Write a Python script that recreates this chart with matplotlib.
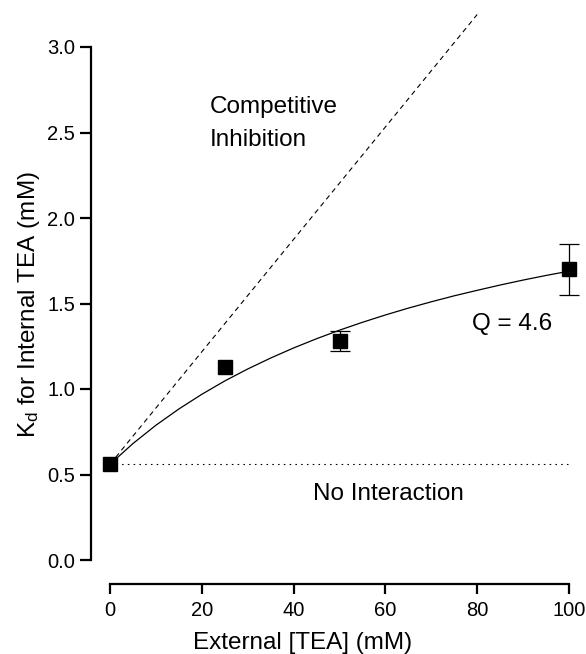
import matplotlib
matplotlib.use("Agg")
import matplotlib.pyplot as plt

plt.rcParams['font.family'] = ['Liberation Sans', 'DejaVu Sans']
plt.rcParams['mathtext.fontset'] = 'custom'
plt.rcParams['mathtext.rm'] = 'Liberation Sans'
plt.rcParams['mathtext.it'] = 'Liberation Sans:italic'

# Measured data
ext_tea = [0, 25, 50, 100]
kd_internal = [0.56, 1.13, 1.28, 1.70]
kd_err = [0.0, 0.0, 0.06, 0.15]

# Fitted curve (Q = 4.6)
fit_x = [0, 5, 10, 15, 20, 25, 30, 35, 40, 45, 50, 55, 60, 65, 70, 75, 80, 85, 90, 95, 100]
fit_y = [0.56, 0.681, 0.788, 0.883, 0.969, 1.047, 1.117, 1.181, 1.240, 1.294, 1.344,
         1.390, 1.433, 1.473, 1.510, 1.545, 1.577, 1.608, 1.637, 1.664, 1.689]

# Competitive inhibition line
comp_x = [0, 80]
comp_y = [0.56, 3.19]

# No interaction line
noint_x = [0, 100]
noint_y = [0.56, 0.56]

x_ticks = [0, 20, 40, 60, 80, 100]
y_ticks = [0.0, 0.5, 1.0, 1.5, 2.0, 2.5, 3.0]

W, H = 586, 654
fig = plt.figure(figsize=(W / 100, H / 100), dpi=100)
# data region: x 0..100 -> px 110..569 ; y 0..3 -> px 560..47
ax = fig.add_axes([110 / W, 1 - 560 / H, (569 - 110) / W, (560 - 47) / H])
ax.set_xlim(0, 100)
ax.set_ylim(0, 3.0)

ax.plot(comp_x, comp_y, color='black', lw=0.8, dashes=(4.5, 3.6), clip_on=False)
ax.plot(noint_x, noint_y, color='black', lw=0.8, dashes=(1.4, 3.8), clip_on=False)
ax.plot(fit_x, fit_y, color='black', lw=0.9, clip_on=False)

# error bars only where an error was shown
eb_x = [x for x, e in zip(ext_tea, kd_err) if e > 0]
eb_y = [y for y, e in zip(kd_internal, kd_err) if e > 0]
eb_e = [e for e in kd_err if e > 0]
ax.errorbar(eb_x, eb_y, yerr=eb_e, fmt='none', ecolor='black', elinewidth=0.9,
            capsize=7.5, capthick=0.9, clip_on=False, zorder=4)
ax.plot(ext_tea, kd_internal, 's', color='black', ms=10.5, clip_on=False, zorder=5)

for s in ['top', 'right']:
    ax.spines[s].set_visible(False)
ax.spines['left'].set_position(('outward', 14))
ax.spines['bottom'].set_position(('outward', 17))
ax.spines['left'].set_linewidth(1.6)
ax.spines['bottom'].set_linewidth(1.6)

ax.set_xticks(x_ticks)
ax.set_xticklabels([str(v) for v in x_ticks])
ax.set_yticks(y_ticks)
ax.set_yticklabels(['%.1f' % v for v in y_ticks])
ax.tick_params(axis='both', direction='out', width=1.6, labelsize=14.5)
ax.tick_params(axis='x', length=7.5, pad=5.0)
ax.tick_params(axis='y', length=8, pad=3.0)


def ftext(px, py, s, **kw):
    fig.text(px / W, 1 - py / H, s, **kw)


ftext(210, 113, 'Competitive', fontsize=17.5, ha='left', va='baseline')
ftext(210, 146, 'Inhibition', fontsize=17.5, ha='left', va='baseline')
ftext(472, 330, 'Q = 4.6', fontsize=17.5, ha='left', va='baseline')
ftext(313, 500, 'No Interaction', fontsize=17.5, ha='left', va='baseline')
ftext(303, 649, 'External [TEA] (mM)', fontsize=17.5, ha='center', va='baseline')
ftext(35, 305, r'K$_{\mathrm{d}}$ for Internal TEA (mM)', fontsize=17.5, ha='center',
      va='baseline', rotation=90, rotation_mode='anchor')

fig.savefig('out.png', dpi=100)
